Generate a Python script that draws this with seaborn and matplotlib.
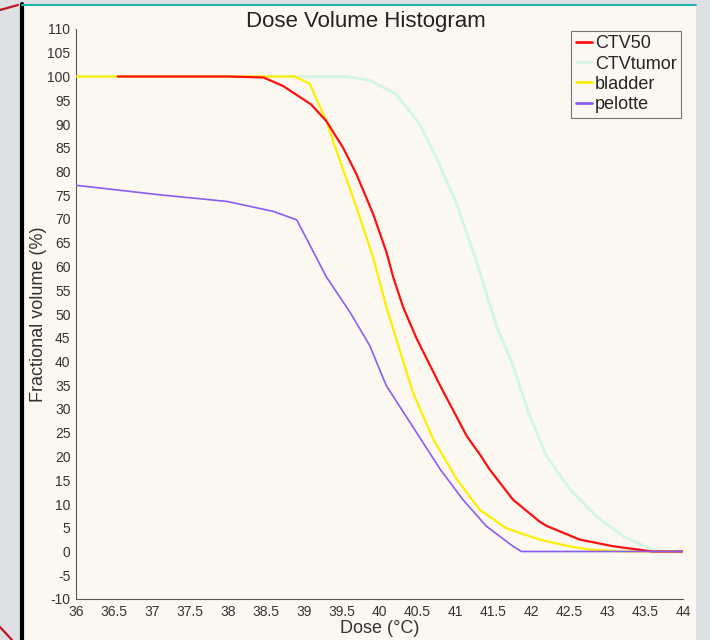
import numpy as np
import pandas as pd
import matplotlib
matplotlib.use('Agg')
import matplotlib.pyplot as plt
from matplotlib.patches import Rectangle
from matplotlib.lines import Line2D
import seaborn as sns

# ------------------------------------------------------------
# Data (dose in °C, fractional volume in %)
# ------------------------------------------------------------
ctv50_dose = [36.55, 38.0, 38.47, 38.73, 39.1, 39.3, 39.52, 39.7, 39.92, 40.09,
              40.18, 40.31, 40.49, 40.8, 41.15, 41.32, 41.45, 41.76, 42.11, 42.2,
              42.64, 43.08, 43.6, 44.0]
ctv50_vol = [100, 100, 99.8, 98.0, 94.1, 90.6, 85.0, 79.3, 70.9, 63.1,
             57.8, 51.5, 44.8, 34.9, 24.3, 20.5, 17.3, 10.9, 6.3, 5.4,
             2.5, 1.1, 0, 0]

ctvtumor_dose = [36.0, 39.57, 39.87, 40.22, 40.53, 40.75, 41.02, 41.28, 41.54, 41.76,
                 41.98, 42.2, 42.51, 42.86, 43.21, 43.6, 43.75, 44.0]
ctvtumor_vol = [100, 100, 99.2, 96.3, 89.9, 82.9, 73.0, 61.0, 47.6, 39.1,
                28.6, 20.1, 13.1, 7.4, 3.2, 0.4, 0, 0]

bladder_dose = [36.0, 38.88, 39.08, 39.3, 39.48, 39.7, 39.92, 40.09, 40.22, 40.44,
                40.71, 41.02, 41.32, 41.67, 42.11, 42.5, 42.77, 43.2, 44.0]
bladder_vol = [100, 100, 98.5, 90.6, 82.2, 72.3, 61.7, 51.5, 44.8, 33.5,
               23.6, 15.2, 8.8, 4.9, 2.5, 1.1, 0.4, 0, 0]

pelotte_dose = [36.0, 37.1, 37.99, 38.6, 38.91, 39.3, 39.61, 39.87, 40.09, 40.49,
                40.8, 41.1, 41.41, 41.76, 41.87, 44.0]
pelotte_vol = [77.1, 75.1, 73.7, 71.6, 69.8, 57.8, 50.4, 43.4, 34.9, 25.0,
               17.3, 10.9, 5.3, 1.1, 0, 0]

structures = ['CTV50', 'CTVtumor', 'bladder', 'pelotte']
colors = {'CTV50': '#ff1010', 'CTVtumor': '#d2f6e4', 'bladder': '#ffee00', 'pelotte': '#8a5cf5'}

x_ticks = np.arange(36, 44.01, 0.5)
y_ticks = np.arange(-10, 110.01, 5)

# long-form table for seaborn
df = pd.concat([
    pd.DataFrame({'Dose': ctv50_dose, 'Volume': ctv50_vol, 'Structure': 'CTV50'}),
    pd.DataFrame({'Dose': ctvtumor_dose, 'Volume': ctvtumor_vol, 'Structure': 'CTVtumor'}),
    pd.DataFrame({'Dose': bladder_dose, 'Volume': bladder_vol, 'Structure': 'bladder'}),
    pd.DataFrame({'Dose': pelotte_dose, 'Volume': pelotte_vol, 'Structure': 'pelotte'}),
], ignore_index=True)

# ------------------------------------------------------------
# Figure
# ------------------------------------------------------------
sns.set_style('white')
plt.rcParams['font.family'] = ['Liberation Sans', 'DejaVu Sans']

W, H = 710, 640
fig = plt.figure(figsize=(W / 100, H / 100), dpi=100, facecolor='#dfe0e3')

# screenshot frame around the chart (drawn under the axes)
fig.patches.append(Rectangle((24 / W, 0), (696 - 24) / W, 1 - 6 / H,
                             transform=fig.transFigure, facecolor='#fbf8f1',
                             edgecolor='none', zorder=-2))
fig.lines.append(Line2D([22 / W, 22 / W], [0, 1 - 4 / H], transform=fig.transFigure,
                        color='black', lw=3, zorder=-1))
fig.lines.append(Line2D([22 / W, 696 / W], [1 - 5 / H, 1 - 5 / H], transform=fig.transFigure,
                        color='#25b3ad', lw=1.5, zorder=-1))
fig.lines.append(Line2D([0, 18 / W], [1 - 10 / H, 1 - 5 / H], transform=fig.transFigure,
                        color='#c01420', lw=1.6, zorder=-1))
fig.lines.append(Line2D([0, 12 / W], [1 - 627 / H, 0], transform=fig.transFigure,
                        color='#c01420', lw=1.6, zorder=-1))

ax = fig.add_axes([76 / W, 1 - 599 / H, (683 - 76) / W, (599 - 29) / H])
ax.set_facecolor('none')

widths = {'CTV50': 1.6, 'CTVtumor': 2.0, 'bladder': 1.6, 'pelotte': 1.2}
zorders = {'CTV50': 4, 'CTVtumor': 2, 'bladder': 3, 'pelotte': 5}
for name in structures:
    sub = df[df['Structure'] == name]
    sns.lineplot(data=sub, x='Dose', y='Volume', color=colors[name], sort=False,
                 estimator=None, linewidth=widths[name], zorder=zorders[name],
                 label=name, ax=ax, legend=False)

ax.set_xlim(36, 44)
ax.set_ylim(-10, 110)
ax.set_xticks(x_ticks)
ax.set_xticklabels([f'{t:g}' for t in x_ticks])
ax.set_yticks(y_ticks)
ax.set_yticklabels([f'{t:g}' for t in y_ticks])
ax.tick_params(axis='both', length=3, width=0.8, color='#555555', labelsize=10,
               labelcolor='#333333', pad=1, direction='out')
ax.tick_params(axis='x', pad=1)

for side in ['top', 'right']:
    ax.spines[side].set_visible(False)
for side in ['left', 'bottom']:
    ax.spines[side].set_color('#555555')
    ax.spines[side].set_linewidth(0.8)

ax.set_xlabel('Dose (°C)', fontsize=13, color='#333333', labelpad=1)
ax.set_ylabel('Fractional volume (%)', fontsize=13, color='#333333', labelpad=0)

fig.text(366 / W, 1 - 27 / H, 'Dose Volume Histogram', ha='center', va='baseline',
         fontsize=16, color='#222222')

handles = [Line2D([], [], color=colors[n], lw=2) for n in structures]
leg = ax.legend(handles, structures, loc='upper right', bbox_to_anchor=(1.0, 1.0),
                fontsize=13, frameon=True, fancybox=False, framealpha=1,
                facecolor='#fbf8f1', edgecolor='#777777', handlelength=0.9,
                handletextpad=0.15, labelspacing=0.18, borderpad=0.25,
                borderaxespad=0.1)
leg.get_frame().set_linewidth(0.8)

fig.savefig('out.png', dpi=100, facecolor=fig.get_facecolor())
